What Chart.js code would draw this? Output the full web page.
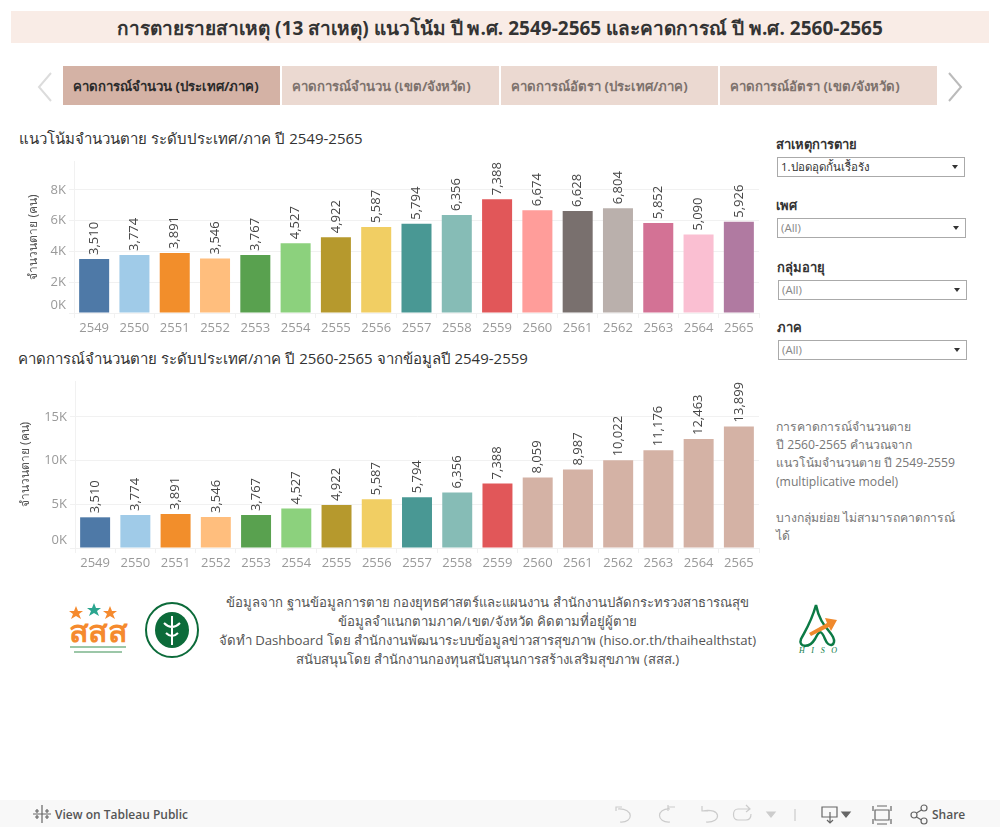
<!DOCTYPE html>
<html lang="th">
<head>
<meta charset="utf-8">
<title>การตายรายสาเหตุ</title>
<script src="https://cdn.jsdelivr.net/npm/chart.js@4"></script>
<style>
  html, body { margin: 0; padding: 0; background: #fff; }
  body { width: 1000px; height: 827px; position: relative; overflow: hidden; font-family: "Open Sans", "Noto Sans", sans-serif; color: #333; }
  .abs { position: absolute; white-space: nowrap; }
  #mainTitle { left: 11px; top: 11px; width: 978px; height: 32px; line-height: 34px; background: #f9ece6; text-align: center; font-weight: 700; font-size: 19px; color: #333; }
  .tab { top: 66px; width: 217px; height: 39px; line-height: 41px; background: #ebd9d1; font-size: 13.2px; font-weight: 700; color: #7d726d; text-indent: 10px; }
  .tab.active { background: #d4b2a5; color: #2b2b2b; }
  .chartTitle { left: 19px; font-size: 15px; color: #333; }
  .filterLabel { font-size: 13px; font-weight: 700; color: #333; }
  .select { width: 186px; height: 18px; border: 1px solid #aaa; background: #fff; font-size: 11.5px; line-height: 18px; text-indent: 3px; color: #888; }
  .select::after { content: ""; position: absolute; right: 6px; top: 7px; border-left: 3px solid transparent; border-right: 3px solid transparent; border-top: 4px solid #333; }
  .note { left: 776px; font-size: 12.2px; color: #777; line-height: 18.2px; }
  .credit { left: 210px; width: 555px; text-align: center; font-size: 13.2px; color: #555; }
  #toolbar { left: 0; top: 800px; width: 1000px; height: 27px; background: #f8f8f8; }
  canvas { position: absolute; }
</style>
</head>
<body>
<div class="abs" id="mainTitle">การตายรายสาเหตุ (13 สาเหตุ) แนวโน้ม ปี พ.ศ. 2549-2565 และคาดการณ์ ปี พ.ศ. 2560-2565</div>

<svg class="abs" style="left:36px;top:72px" width="18" height="30"><path d="M15 1 L3 15 L15 29" fill="none" stroke="#dcdcdc" stroke-width="2"/></svg>
<svg class="abs" style="left:946px;top:72px" width="18" height="30"><path d="M3 1 L15 15 L3 29" fill="none" stroke="#bbb" stroke-width="2"/></svg>
<div class="abs tab active" style="left:63px">คาดการณ์จำนวน (ประเทศ/ภาค)</div>
<div class="abs tab" style="left:282px">คาดการณ์จำนวน (เขต/จังหวัด)</div>
<div class="abs tab" style="left:501px">คาดการณ์อัตรา (ประเทศ/ภาค)</div>
<div class="abs tab" style="left:720px">คาดการณ์อัตรา (เขต/จังหวัด)</div>

<div class="abs chartTitle" style="top:127px">แนวโน้มจำนวนตาย ระดับประเทศ/ภาค ปี 2549-2565</div>
<canvas id="chartOne" width="770" height="195" style="left:0;top:150px"></canvas>
<div class="abs chartTitle" style="top:347px;left:18px">คาดการณ์จำนวนตาย ระดับประเทศ/ภาค ปี 2560-2565 จากข้อมูลปี 2549-2559</div>
<canvas id="chartTwo" width="770" height="200" style="left:0;top:370px"></canvas>

<div class="abs filterLabel" style="left:776px;top:134px">สาเหตุการตาย</div>
<div class="abs select" style="left:777px;top:157px;color:#333">1.ปอดอุดกั้นเรื้อรัง</div>
<div class="abs filterLabel" style="left:776px;top:195px">เพศ</div>
<div class="abs select" style="left:777px;top:218px;width:187px">(All)</div>
<div class="abs filterLabel" style="left:777px;top:257px">กลุ่มอายุ</div>
<div class="abs select" style="left:778px;top:280px;width:187px">(All)</div>
<div class="abs filterLabel" style="left:777px;top:317px">ภาค</div>
<div class="abs select" style="left:778px;top:340px;width:187px">(All)</div>

<div class="abs note" style="top:418px">การคาดการณ์จำนวนตาย<br>ปี 2560-2565 คำนวณจาก<br>แนวโน้มจำนวนตาย ปี 2549-2559<br>(multiplicative model)<br><br>บางกลุ่มย่อย ไม่สามารถคาดการณ์<br>ได้</div>

<div class="abs credit" style="top:592px">ข้อมูลจาก ฐานข้อมูลการตาย กองยุทธศาสตร์และแผนงาน สำนักงานปลัดกระทรวงสาธารณสุข</div>
<div class="abs credit" style="top:611px">ข้อมูลจำแนกตามภาค/เขต/จังหวัด คิดตามที่อยู่ผู้ตาย</div>
<div class="abs credit" style="top:630px">จัดทำ Dashboard โดย สำนักงานพัฒนาระบบข้อมูลข่าวสารสุขภาพ (hiso.or.th/thaihealthstat)</div>
<div class="abs credit" style="top:649px">สนับสนุนโดย สำนักงานกองทุนสนับสนุนการสร้างเสริมสุขภาพ (สสส.)</div>

<!-- logos -->
<svg class="abs" style="left:66px;top:600px" width="66" height="56">
  <path d="M10 6 l2 5 5 0 -4 3 2 5 -5 -3 -5 3 2 -5 -4 -3 5 0z" fill="#f58a2e"/>
  <path d="M28 3 l2 5 5 0 -4 3 2 5 -5 -3 -5 3 2 -5 -4 -3 5 0z" fill="#2ba58f"/>
  <path d="M44 6 l2 5 5 0 -4 3 2 5 -5 -3 -5 3 2 -5 -4 -3 5 0z" fill="#f58a2e"/>
  <text x="3" y="42" font-family="Noto Sans, sans-serif" font-size="30" font-weight="700" fill="#f58a2e" textLength="58" lengthAdjust="spacingAndGlyphs">สสส</text>
  <rect x="4" y="46" width="56" height="2" fill="#9cc7a8"/>
  <rect x="8" y="51" width="48" height="2" fill="#9cc7a8"/>
</svg>
<svg class="abs" style="left:144px;top:601px" width="56" height="58">
  <ellipse cx="28" cy="29" rx="26" ry="27" fill="#fff" stroke="#0c6b3a" stroke-width="2"/>
  <ellipse cx="28" cy="29" rx="17" ry="18" fill="#0c6b3a"/>
  <path d="M28 15 V44 M20 22 Q28 30 36 22 M22 32 Q28 38 34 32" stroke="#fff" stroke-width="2" fill="none"/>
</svg>
<svg class="abs" style="left:795px;top:603px" width="46" height="52">
  <path d="M21 2 C16 20 10 28 6 36 C3 44 14 46 20 36 C24 28 26 26 30 36 C34 46 42 42 38 34 C34 26 25 22 21 2z" fill="none" stroke="#0c7a45" stroke-width="2.5"/>
  <path d="M14 30 L32 20 L30 15 L42 17 L36 28 L34 24 L16 33z" fill="#f0892c"/>
  <text x="4" y="50" font-family="Liberation Serif, serif" font-style="italic" font-size="8" fill="#0c7a45" textLength="38">HISO</text>
</svg>

<!-- toolbar -->
<div class="abs" id="toolbar">
  <svg class="abs" style="left:32px;top:4px" width="20" height="20" stroke="#666" stroke-width="1.2">
    <path d="M10 1V19M1 10H19M5 5V9M3 7H7M15 5V9M13 7H17M5 11V15M3 13H7M15 11V15M13 13H17"/>
  </svg>
  <div class="abs" style="left:55px;top:6px;font-size:12px;font-weight:600;color:#555">View on Tableau Public</div>
  <svg class="abs" style="left:610px;top:2px" width="250" height="24" fill="none" stroke="#ccc" stroke-width="1.2">
    <path d="M12 5 H6 V9 M8 7 C24 6 24 21 10 20"/>
    <path d="M65 5 H58 M58 3 V9 M60 7 C46 6 46 21 60 20"/>
    <path d="M92 4 V9 H98 M92 9 C112 5 112 21 96 20"/>
    <path d="M140 7 H128 C122 7 122 18 128 18 H136 C140 18 141 15 141 12 M136 3 L140 7 L136 10"/>
    <path d="M157 10 L165 10 L161 15z" fill="#ccc"/>
    <path d="M185 7 V19"/>
  </svg>
  <svg class="abs" style="left:820px;top:2px" width="80" height="24" fill="none" stroke="#666" stroke-width="1.2">
    <path d="M2 5 H17 V15 H2 Z M10 10 V21 M7 18 L10 21 L13 18"/>
    <path d="M22 10 L30 10 L26 15z" fill="#666"/>
    <path d="M57 4 H67 M57 22 H67 M53 4 V9 M71 4 V9 M53 17 V22 M71 17 V22 M55 8 H69 V18 H55 Z"/>
  </svg>
  <svg class="abs" style="left:908px;top:2px" width="24" height="24" fill="none" stroke="#666" stroke-width="1.2">
    <circle cx="6" cy="13" r="3"/><circle cx="16" cy="6" r="3"/><circle cx="16" cy="19" r="3"/>
    <path d="M8.5 11 L13.5 8 M8.5 15 L13.5 18"/>
  </svg>
  <div class="abs" style="left:932px;top:6px;font-size:12px;font-weight:600;color:#555">Share</div>
</div>

<script>
const years = ['2549', '2550', '2551', '2552', '2553', '2554', '2555', '2556', '2557', '2558', '2559', '2560', '2561', '2562', '2563', '2564', '2565'];
const trendValues = [3510, 3774, 3891, 3546, 3767, 4527, 4922, 5587, 5794, 6356, 7388, 6674, 6628, 6804, 5852, 5090, 5926];
const forecastValues = [3510, 3774, 3891, 3546, 3767, 4527, 4922, 5587, 5794, 6356, 7388, 8059, 8987, 10022, 11176, 12463, 13899];
const trendTicks = [0, 2000, 4000, 6000, 8000];
const forecastTicks = [0, 5000, 10000, 15000];
const trendColors = ['#4e79a7', '#a0cbe8', '#f28e2b', '#ffbe7d', '#59a14f', '#8cd17d', '#b6992d', '#f1ce63', '#499894', '#86bcb6', '#e15759', '#ff9d9a', '#79706e', '#bab0ac', '#d37295', '#fabfd2', '#b07aa1'];
const forecastColors = ['#4e79a7', '#a0cbe8', '#f28e2b', '#ffbe7d', '#59a14f', '#8cd17d', '#b6992d', '#f1ce63', '#499894', '#86bcb6', '#e15759', '#d4b2a5', '#d4b2a5', '#d4b2a5', '#d4b2a5', '#d4b2a5', '#d4b2a5'];
const yTitle = 'จำนวนตาย (คน)';

const gridColor = '#f1f1f1';
const tickColor = '#999';
const tickFont = { family: '"Open Sans", sans-serif', size: 13, lineHeight: 16 / 13 };

// vertical value labels above the bars
const barLabels = {
  id: 'barLabels',
  afterDatasetsDraw(chart) {
    const ctx = chart.ctx;
    ctx.save();
    ctx.font = '13px "Open Sans", sans-serif';
    ctx.fillStyle = '#444';
    ctx.textAlign = 'left';
    ctx.textBaseline = 'middle';
    chart.getDatasetMeta(0).data.forEach((bar, i) => {
      ctx.save();
      ctx.translate(bar.x, bar.y - 4);
      ctx.rotate(-Math.PI / 2);
      ctx.fillText(chart.data.datasets[0].data[i].toLocaleString('en-US'), 0, 0);
      ctx.restore();
    });
    ctx.restore();
  },
};

function makeConfig(values, colors, yMax, yTicks, axisWidth, axisHeight, padding, titlePad) {
  return {
    type: 'bar',
    data: {
      labels: years,
      datasets: [{ data: values, backgroundColor: colors, barPercentage: 0.745, categoryPercentage: 1 }],
    },
    plugins: [barLabels],
    options: {
      responsive: false,
      animation: false,
      layout: { padding: padding },
      plugins: { legend: { display: false }, tooltip: { enabled: false } },
      scales: {
        x: {
          afterFit(scale) { scale.height = axisHeight; },
          grid: { drawOnChartArea: false, color: gridColor, tickLength: 5 },
          border: { color: gridColor },
          ticks: { color: tickColor, font: tickFont, padding: 2, maxRotation: 0, autoSkip: false },
        },
        y: {
          min: 0,
          max: yMax,
          afterFit(scale) { scale.width = axisWidth; },
          // the axis max is not a round number, so the ticks are set by hand
          afterBuildTicks(scale) { scale.ticks = yTicks.map((value) => ({ value })); },
          grid: { color: gridColor, tickLength: 5 },
          border: { color: gridColor },
          title: { display: true, text: yTitle, color: '#555', font: { family: '"Noto Sans", sans-serif', size: 12 }, padding: { top: titlePad, bottom: 0 } },
          ticks: {
            color: tickColor,
            font: tickFont,
            padding: 3,
            // the zero label sits above the baseline in the original
            callback: (v) => (v === 0 ? ['0K', ''] : v / 1000 + 'K'),
          },
        },
      },
    },
  };
}

//chart1- trend
const canvasOne = document.getElementById('chartOne');
const chartOne = new Chart(canvasOne, makeConfig(trendValues, trendColors, 9870, trendTicks, 74, 32, { top: 9, right: 11 }, 26));

//chart2- forecast
const canvasTwo = document.getElementById('chartTwo');
const chartTwo = new Chart(canvasTwo, makeConfig(forecastValues, forecastColors, 19100, forecastTicks, 75, 22, { top: 9, right: 11 }, 18));
</script>
</body>
</html>
